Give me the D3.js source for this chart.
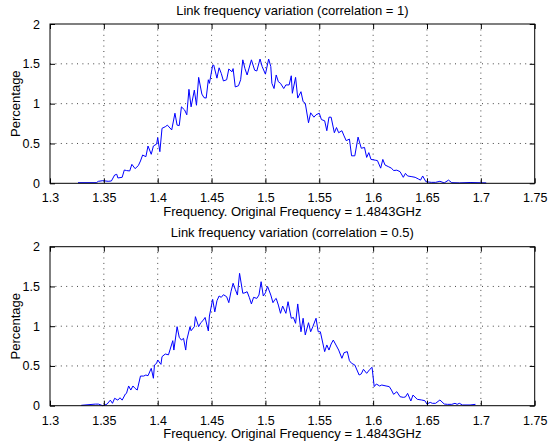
<!DOCTYPE html>
<html>
<head>
<meta charset="utf-8">
<script src="https://cdn.jsdelivr.net/npm/d3@7"></script>
<style>
  body { margin: 0; background: #fff; }
  svg { display: block; font-family: "Liberation Sans", Arial, Helvetica, sans-serif; }
</style>
</head>
<body>
<div id="chart"></div>
<script>
'use strict';

// Axis ticks and labels
var xTicks = [1.3, 1.35, 1.4, 1.45, 1.5, 1.55, 1.6, 1.65, 1.7, 1.75]
var xTickLabels = ['1.3', '1.35', '1.4', '1.45', '1.5', '1.55', '1.6', '1.65', '1.7', '1.75']
var yTicks = [0, 0.5, 1, 1.5, 2]
var yTickLabels = ['0', '0.5', '1', '1.5', '2']
var titles = ['Link frequency variation (correlation = 1)', 'Link frequency variation (correlation = 0.5)']
var xLabel = 'Frequency. Original Frequency = 1.4843GHz'
var yLabel = 'Percentage'

// correlation = 1
var freqTop = [1.326, 1.343, 1.345, 1.349, 1.354, 1.357, 1.360, 1.362, 1.363, 1.367,
  1.369, 1.371, 1.374, 1.376, 1.379, 1.382, 1.384, 1.386, 1.389, 1.391,
  1.394, 1.396, 1.399, 1.400, 1.402, 1.404, 1.407, 1.409, 1.413, 1.416,
  1.418, 1.420, 1.422, 1.425, 1.427, 1.429, 1.431, 1.434, 1.436, 1.438,
  1.441, 1.443, 1.445, 1.447, 1.448, 1.451, 1.452, 1.455, 1.457, 1.459,
  1.461, 1.464, 1.466, 1.469, 1.470, 1.472, 1.475, 1.477, 1.479, 1.481,
  1.483, 1.487, 1.490, 1.492, 1.495, 1.497, 1.500, 1.503, 1.505, 1.506,
  1.508, 1.510, 1.512, 1.514, 1.517, 1.519, 1.522, 1.524, 1.525, 1.528,
  1.530, 1.533, 1.535, 1.537, 1.540, 1.542, 1.545, 1.547, 1.550, 1.552,
  1.555, 1.557, 1.559, 1.561, 1.564, 1.566, 1.568, 1.571, 1.573, 1.575,
  1.578, 1.580, 1.583, 1.586, 1.589, 1.592, 1.594, 1.596, 1.598, 1.602,
  1.604, 1.607, 1.609, 1.611, 1.614, 1.617, 1.619, 1.622, 1.625, 1.628,
  1.630, 1.632, 1.636, 1.639, 1.642, 1.644, 1.646, 1.649, 1.654, 1.658,
  1.662, 1.666, 1.670, 1.673, 1.680, 1.690, 1.705]
var pctTop = [0.008, 0.008, 0.025, 0.033, 0.025, 0.029, 0.104, 0.113, 0.067, 0.075,
  0.167, 0.160, 0.155, 0.238, 0.184, 0.222, 0.280, 0.355, 0.334, 0.468,
  0.364, 0.468, 0.493, 0.573, 0.397, 0.690, 0.710, 0.730, 0.670, 0.880,
  0.730, 0.725, 0.960, 0.920, 0.860, 1.180, 0.960, 1.170, 0.980, 1.330,
  1.120, 1.075, 1.070, 1.300, 1.255, 1.480, 1.485, 1.320, 1.450, 1.380,
  1.285, 1.300, 1.435, 1.400, 1.440, 1.210, 1.225, 1.300, 1.550, 1.440,
  1.360, 1.550, 1.420, 1.410, 1.560, 1.465, 1.370, 1.560, 1.465, 1.255,
  1.190, 1.360, 1.275, 1.255, 1.190, 1.235, 1.235, 1.350, 1.130, 1.330,
  1.070, 1.150, 1.025, 1.005, 0.760, 0.885, 0.830, 0.860, 0.880, 0.800,
  0.785, 0.660, 0.830, 0.830, 0.635, 0.700, 0.635, 0.660, 0.595, 0.535,
  0.555, 0.345, 0.345, 0.580, 0.440, 0.450, 0.325, 0.385, 0.300, 0.290,
  0.285, 0.190, 0.300, 0.230, 0.210, 0.190, 0.160, 0.165, 0.146, 0.075,
  0.125, 0.092, 0.083, 0.075, 0.054, 0.040, 0.092, 0.020, 0.012, 0.012,
  0.025, 0.005, 0.040, 0.008, 0.005, 0.010, 0.005]

// correlation = 0.5
var freqBottom = [1.329, 1.342, 1.345, 1.349, 1.353, 1.356, 1.358, 1.360, 1.363, 1.365,
  1.367, 1.370, 1.371, 1.373, 1.375, 1.377, 1.379, 1.381, 1.384, 1.387,
  1.389, 1.391, 1.394, 1.396, 1.397, 1.399, 1.400, 1.403, 1.404, 1.407,
  1.410, 1.414, 1.415, 1.418, 1.420, 1.422, 1.424, 1.426, 1.427, 1.430,
  1.431, 1.434, 1.435, 1.438, 1.440, 1.442, 1.444, 1.447, 1.448, 1.451,
  1.453, 1.455, 1.457, 1.459, 1.461, 1.464, 1.466, 1.468, 1.470, 1.472,
  1.474, 1.476, 1.479, 1.481, 1.483, 1.485, 1.487, 1.489, 1.492, 1.494,
  1.496, 1.498, 1.500, 1.502, 1.505, 1.507, 1.509, 1.510, 1.512, 1.514,
  1.516, 1.519, 1.521, 1.524, 1.526, 1.528, 1.530, 1.533, 1.535, 1.537,
  1.540, 1.542, 1.544, 1.547, 1.549, 1.551, 1.555, 1.557, 1.559, 1.561,
  1.563, 1.566, 1.568, 1.571, 1.573, 1.576, 1.578, 1.580, 1.583, 1.585,
  1.587, 1.589, 1.591, 1.594, 1.597, 1.599, 1.601, 1.603, 1.606, 1.608,
  1.612, 1.615, 1.617, 1.619, 1.622, 1.625, 1.628, 1.630, 1.632, 1.635,
  1.637, 1.641, 1.645, 1.648, 1.650, 1.653, 1.655, 1.658, 1.662, 1.666,
  1.669, 1.673, 1.676, 1.678, 1.680, 1.683, 1.690, 1.695]
var pctBottom = [0.005, 0.020, 0.020, 0.000, 0.020, 0.070, 0.030, 0.093, 0.070, 0.100,
  0.070, 0.147, 0.155, 0.248, 0.197, 0.248, 0.218, 0.197, 0.373, 0.373,
  0.386, 0.377, 0.470, 0.345, 0.512, 0.533, 0.575, 0.520, 0.617, 0.650,
  0.640, 0.818, 0.700, 0.994, 0.860, 0.826, 0.847, 0.700, 0.826, 0.994,
  0.943, 0.994, 1.120, 0.994, 1.044, 1.070, 1.110, 0.940, 1.128, 1.338,
  1.180, 1.320, 1.380, 1.363, 1.396, 1.371, 1.296, 1.434, 1.540, 1.464,
  1.392, 1.665, 1.414, 1.420, 1.434, 1.363, 1.280, 1.363, 1.350, 1.392,
  1.560, 1.380, 1.420, 1.500, 1.392, 1.296, 1.338, 1.350, 1.266, 1.162,
  1.254, 1.162, 1.308, 1.100, 1.110, 1.036, 1.280, 0.930, 1.100, 0.890,
  1.044, 0.930, 0.994, 1.100, 0.930, 0.930, 0.680, 0.764, 0.700, 0.776,
  0.826, 0.751, 0.700, 0.596, 0.667, 0.680, 0.566, 0.533, 0.512, 0.449,
  0.386, 0.400, 0.458, 0.407, 0.458, 0.483, 0.240, 0.273, 0.248, 0.260,
  0.248, 0.240, 0.197, 0.143, 0.176, 0.113, 0.105, 0.110, 0.155, 0.059,
  0.134, 0.080, 0.072, 0.063, 0.021, 0.042, 0.030, 0.030, 0.072, 0.021,
  0.017, 0.017, 0.030, 0.017, 0.030, 0.009, 0.009, 0.017]

var W = 548, H = 446
var left = 50, right = 534.7
var panels = [
  {top: 24, bottom: 183.3, title: titles[0], freq: freqTop, pct: pctTop},
  {top: 246.7, bottom: 405.7, title: titles[1], freq: freqBottom, pct: pctBottom}
]

var svg = d3.select('#chart').append('svg')
  .attr('width', W)
  .attr('height', H)

var x = d3.scaleLinear()
  .domain([xTicks[0], xTicks[xTicks.length - 1]])
  .range([left, right])

panels.forEach(function(p) {
  var y = d3.scaleLinear()
    .domain([yTicks[0], yTicks[yTicks.length - 1]])
    .range([p.bottom, p.top])

  var g = svg.append('g')

  // Dotted grid
  g.selectAll('line.gx')
      .data(xTicks.slice(1, -1))
    .enter().append('line')
      .attr('x1', function(d) { return x(d) })
      .attr('x2', function(d) { return x(d) })
      .attr('y1', p.top)
      .attr('y2', p.bottom)
      .style('stroke', '#444')
      .style('stroke-dasharray', '1,4.4')

  g.selectAll('line.gy')
      .data(yTicks.slice(1, -1))
    .enter().append('line')
      .attr('x1', left)
      .attr('x2', right)
      .attr('y1', function(d) { return y(d) })
      .attr('y2', function(d) { return y(d) })
      .style('stroke', '#444')
      .style('stroke-dasharray', '1,4.4')

  // Series
  var line = d3.line()
    .x(function(d) { return x(d[0]) })
    .y(function(d) { return y(d[1]) })

  g.append('path')
    .datum(d3.zip(p.freq, p.pct))
    .attr('d', line)
    .style('fill', 'none')
    .style('stroke', '#0000ff')
    .style('stroke-width', 1)

  // Inward ticks on all four sides
  var fmtX = function(d, i) { return xTickLabels[i] }
  var fmtY = function(d, i) { return yTickLabels[i] }

  var axB = g.append('g')
    .attr('transform', 'translate(0,' + p.bottom + ')')
    .call(d3.axisBottom(x).tickValues(xTicks).tickFormat(fmtX).tickSizeInner(-5).tickSizeOuter(0).tickPadding(10))
  var axT = g.append('g')
    .attr('transform', 'translate(0,' + p.top + ')')
    .call(d3.axisTop(x).tickValues(xTicks).tickFormat('').tickSizeInner(-5).tickSizeOuter(0))
  var axL = g.append('g')
    .attr('transform', 'translate(' + left + ',0)')
    .call(d3.axisLeft(y).tickValues(yTicks).tickFormat(fmtY).tickSizeInner(-5).tickSizeOuter(0).tickPadding(10))
  var axR = g.append('g')
    .attr('transform', 'translate(' + right + ',0)')
    .call(d3.axisRight(y).tickValues(yTicks).tickFormat('').tickSizeInner(-5).tickSizeOuter(0))

  ;[axB, axT, axL, axR].forEach(function(a) {
    a.select('.domain').remove()
    a.selectAll('line').style('stroke', '#000')
    a.selectAll('text')
      .style('font-family', '"Liberation Sans", Arial, Helvetica, sans-serif')
      .style('font-size', '12.5px')
      .style('fill', '#000')
  })

  // Box
  g.append('rect')
    .attr('x', left)
    .attr('y', p.top)
    .attr('width', right - left)
    .attr('height', p.bottom - p.top)
    .style('fill', 'none')
    .style('stroke', '#000')

  // Labels
  g.append('text')
    .attr('x', (left + right) / 2)
    .attr('y', p.top - 9.5)
    .attr('text-anchor', 'middle')
    .style('font-size', '13px')
    .text(p.title)

  g.append('text')
    .attr('x', (left + right) / 2)
    .attr('y', p.bottom + 32.7)
    .attr('text-anchor', 'middle')
    .style('font-size', '13px')
    .text(xLabel)

  g.append('text')
    .attr('transform', 'translate(19.5,' + (p.top + p.bottom) / 2 + ') rotate(-90)')
    .attr('text-anchor', 'middle')
    .style('font-size', '13px')
    .text(yLabel)
})
</script>
</body>
</html>
